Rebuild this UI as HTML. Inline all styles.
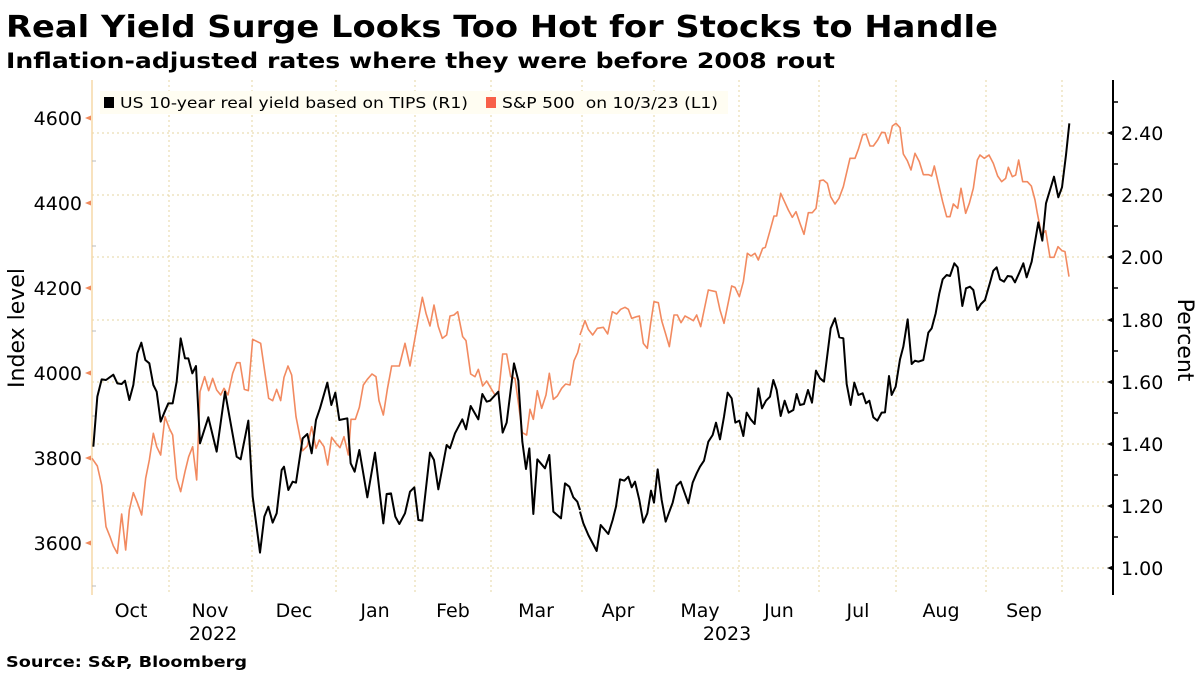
<!DOCTYPE html>
<html><head><meta charset="utf-8"><style>
body{margin:0;background:#fff;}
svg{display:block;font-family:"DejaVu Sans","Liberation Sans",sans-serif;}
</style></head><body>
<svg width="1200" height="674" viewBox="0 0 1200 674" xmlns="http://www.w3.org/2000/svg">
<rect width="1200" height="674" fill="#fff"/>
<text x="6" y="37" font-size="30" font-weight="bold" fill="#000" textLength="992" lengthAdjust="spacingAndGlyphs">Real Yield Surge Looks Too Hot for Stocks to Handle</text>
<text x="6" y="68" font-size="21" font-weight="bold" fill="#000" textLength="829" lengthAdjust="spacingAndGlyphs">Inflation-adjusted rates where they were before 2008 rout</text>
<text x="6" y="667" font-size="15" font-weight="bold" fill="#000" textLength="241" lengthAdjust="spacingAndGlyphs">Source: S&amp;P, Bloomberg</text>
<g stroke="#e6d5a0" stroke-width="1" stroke-dasharray="2,3">
<line x1="92" x2="1113" y1="133" y2="133"/><line x1="92" x2="1113" y1="195" y2="195"/>
<line x1="92" x2="1113" y1="257" y2="257"/><line x1="92" x2="1113" y1="320" y2="320"/>
<line x1="92" x2="1113" y1="382" y2="382"/><line x1="92" x2="1113" y1="444" y2="444"/>
<line x1="92" x2="1113" y1="506" y2="506"/><line x1="92" x2="1113" y1="568" y2="568"/>
<line x1="169" x2="169" y1="80" y2="594"/><line x1="252" x2="252" y1="80" y2="594"/>
<line x1="336" x2="336" y1="80" y2="594"/><line x1="415" x2="415" y1="80" y2="594"/>
<line x1="491" x2="491" y1="80" y2="594"/><line x1="582" x2="582" y1="80" y2="594"/>
<line x1="654" x2="654" y1="80" y2="594"/><line x1="739" x2="739" y1="80" y2="594"/>
<line x1="819" x2="819" y1="80" y2="594"/><line x1="896" x2="896" y1="80" y2="594"/>
<line x1="986" x2="986" y1="80" y2="594"/><line x1="1062" x2="1062" y1="80" y2="594"/>
</g>
<line x1="92" x2="92" y1="80" y2="595" stroke="#f5d9a8" stroke-width="1.5"/>
<g stroke="#bbb" stroke-width="1"><line x1="92" x2="96" y1="161" y2="161"/><line x1="92" x2="96" y1="246" y2="246"/><line x1="92" x2="96" y1="331" y2="331"/><line x1="92" x2="96" y1="416" y2="416"/><line x1="92" x2="96" y1="501" y2="501"/><line x1="92" x2="96" y1="586" y2="586"/></g>
<g fill="#f08a5d"><path d="M85 118l6-2.5v5z"/><path d="M85 203l6-2.5v5z"/><path d="M85 288l6-2.5v5z"/><path d="M85 373l6-2.5v5z"/><path d="M85 458l6-2.5v5z"/><path d="M85 543l6-2.5v5z"/></g>
<g font-size="19" fill="#000" text-anchor="end">
<text x="82" y="125">4600</text><text x="82" y="210">4400</text><text x="82" y="295">4200</text><text x="82" y="380">4000</text><text x="82" y="465">3800</text><text x="82" y="550">3600</text>
</g>
<text transform="translate(24,328) rotate(-90)" font-size="22" text-anchor="middle">Index level</text>
<line x1="1113" x2="1113" y1="80" y2="595" stroke="#000" stroke-width="2"/>
<g stroke="#000" stroke-width="1.5">
<line x1="1113" x2="1118" y1="102" y2="102"/><line x1="1113" x2="1118" y1="164" y2="164"/><line x1="1113" x2="1118" y1="226" y2="226"/><line x1="1113" x2="1118" y1="288" y2="288"/><line x1="1113" x2="1118" y1="351" y2="351"/><line x1="1113" x2="1118" y1="413" y2="413"/><line x1="1113" x2="1118" y1="475" y2="475"/><line x1="1113" x2="1118" y1="537" y2="537"/>
</g>
<g fill="#000"><path d="M1107 133l6-2.5v5z"/><path d="M1107 195l6-2.5v5z"/><path d="M1107 257l6-2.5v5z"/><path d="M1107 320l6-2.5v5z"/><path d="M1107 382l6-2.5v5z"/><path d="M1107 444l6-2.5v5z"/><path d="M1107 506l6-2.5v5z"/><path d="M1107 568l6-2.5v5z"/></g>
<g font-size="19" fill="#000">
<text x="1121" y="140">2.40</text><text x="1121" y="202">2.20</text><text x="1121" y="264">2.00</text><text x="1121" y="327">1.80</text><text x="1121" y="389">1.60</text><text x="1121" y="451">1.40</text><text x="1121" y="513">1.20</text><text x="1121" y="575">1.00</text>
</g>
<text transform="translate(1178,340) rotate(90)" font-size="22" text-anchor="middle">Percent</text>
<g font-size="19" fill="#000" text-anchor="middle">
<text x="131" y="617">Oct</text><text x="210" y="617">Nov</text><text x="294" y="617">Dec</text><text x="375" y="617">Jan</text><text x="453" y="617">Feb</text><text x="536" y="617">Mar</text><text x="618" y="617">Apr</text><text x="700" y="617">May</text><text x="779" y="617">Jun</text><text x="858" y="617">Jul</text><text x="941" y="617">Aug</text><text x="1024" y="617">Sep</text>
<text x="213" y="640">2022</text><text x="727" y="640">2023</text>
</g>
<rect x="100" y="91" width="628" height="23" fill="#fffdf2"/>
<rect x="104" y="97" width="10" height="11" fill="#000"/>
<text x="120" y="108" font-size="15" textLength="348" lengthAdjust="spacingAndGlyphs">US 10-year real yield based on TIPS (R1)</text>
<rect x="486" y="97" width="10" height="11" fill="#f8604a"/>
<text x="502" y="108" font-size="15" xml:space="preserve" textLength="216" lengthAdjust="spacingAndGlyphs">S&amp;P 500  on 10/3/23 (L1)</text>
<g fill="none" stroke-linejoin="round">
<g transform="translate(80,80) scale(0.33333)">
<polyline vector-effect="non-scaling-stroke" stroke="#f28a60" stroke-width="1.6" points="36,1135 52,1158 65,1215 78,1340 90,1370 100,1398 112,1420 125,1302 137,1410 148,1290 160,1238 172,1268 185,1305 197,1195 208,1140 220,1060 230,1100 242,1125 255,1010 268,1045 278,1065 290,1195 302,1235 315,1175 326,1130 338,1100 350,1200 360,935 374,890 386,932 398,895 410,930 422,945 432,925 444,945 458,880 470,848 480,848 493,928 505,932 518,778 542,790 555,880 566,955 578,962 590,928 602,962 612,892 624,858 635,885 648,1010 668,1112 682,1098 695,1040 708,1105 718,1080 732,1100 743,1155 755,1072 768,1090 780,1103 792,1070 805,1125 813,1018 826,1018 838,982 850,915 862,898 876,882 888,890 897,962 910,1005 922,928 935,858 958,858 975,790 990,858 1003,785 1015,718 1027,652 1038,700 1050,738 1062,675 1075,740 1087,775 1100,765 1110,708 1122,705 1133,695 1148,770 1158,782 1172,882 1185,890 1195,868 1208,918 1220,903 1233,925 1245,945 1256,938 1268,822 1280,822 1292,890 1305,895 1315,968 1327,1058 1340,1065 1350,988 1360,1018 1372,932 1385,985 1398,945 1408,880 1420,958 1432,948 1445,925 1457,912 1470,915 1482,842 1493,818 1500,790"/>
<polyline vector-effect="non-scaling-stroke" stroke="#000" stroke-width="2" points="40,1100 52,950 65,898 78,900 100,884 112,910 125,912 135,902 148,960 160,915 172,820 184,788 196,840 208,850 220,915 230,935 242,1025 252,1000 265,970 278,970 290,905 302,775 315,835 325,835 337,880 348,858 360,1090 385,1012 410,1115 435,935 470,1130 482,1138 505,1022 518,1250 540,1418 553,1310 565,1280 578,1328 590,1300 605,1170 612,1160 625,1230 638,1205 648,1208 668,1075 682,1062 695,1120 708,1020 720,985 742,908 754,975 766,938 778,1020 802,1015 812,1150 824,1175 838,1110 862,1252 885,1118 910,1330 920,1242 933,1240 946,1310 958,1332 975,1300 990,1235 1003,1222 1015,1320 1027,1322 1050,1118 1062,1140 1075,1228 1100,1095 1110,1105 1125,1060 1147,1018 1158,1048 1172,978 1195,1018 1207,942 1220,965 1230,962 1255,935 1268,1058 1280,1028 1302,850 1315,902 1327,1085 1338,1167 1348,1105 1360,1302 1372,1138 1395,1165 1408,1125 1420,1295 1443,1315 1455,1210 1468,1220 1480,1252 1492,1265 1500,1290"/>
</g>
<g transform="translate(580,80) scale(0.33333)">
<polyline vector-effect="non-scaling-stroke" stroke="#f28a60" stroke-width="1.6" points="0,765 15,722 25,748 38,765 52,745 70,742 83,762 97,695 110,702 122,688 135,682 145,688 155,715 170,710 178,708 190,790 202,805 212,730 222,665 235,668 245,722 257,762 268,800 282,705 292,705 303,728 315,708 328,715 340,722 350,705 362,740 385,630 408,635 420,690 432,730 455,618 465,622 478,650 490,605 502,520 513,528 525,520 535,540 548,505 556,502 570,452 582,408 590,408 602,340 615,368 625,390 637,412 648,395 660,430 672,463 685,398 697,398 708,385 720,302 730,300 742,310 752,350 765,372 777,355 790,320 810,235 825,235 835,208 848,165 858,162 870,198 880,198 893,180 905,157 915,158 925,190 937,138 948,130 960,143 970,222 982,242 993,270 1005,220 1018,245 1030,284 1045,284 1055,288 1063,258 1075,310 1088,365 1100,410 1110,410 1120,372 1133,385 1143,325 1157,400 1168,370 1180,325 1192,240 1200,225 1213,235 1227,225 1240,250 1253,288 1265,305 1277,295 1285,262 1297,290 1307,285 1316,240 1328,305 1342,305 1354,318 1365,360 1372,400 1385,465 1397,452 1410,532 1422,532 1434,500 1446,512 1455,515 1467,590"/>
<polyline vector-effect="non-scaling-stroke" stroke="#000" stroke-width="2" points="0,1295 10,1330 25,1365 50,1413 62,1335 85,1362 98,1320 108,1280 120,1198 133,1202 145,1190 155,1222 165,1205 178,1260 190,1328 202,1300 213,1232 222,1268 233,1168 245,1260 257,1325 278,1268 290,1217 302,1205 325,1270 338,1208 350,1180 360,1160 372,1142 385,1085 398,1065 408,1028 420,1078 432,1010 443,938 455,955 466,1028 478,1022 490,1068 500,998 512,1018 524,1032 535,925 546,985 558,962 570,950 580,900 590,930 602,1008 614,962 626,998 640,990 650,942 660,975 672,972 684,930 696,968 708,872 720,895 732,905 752,745 765,715 778,772 790,775 800,912 812,975 823,908 835,945 848,940 858,970 868,962 880,1012 892,1022 905,998 915,997 927,888 935,945 947,920 960,838 970,800 983,718 995,852 1005,842 1015,845 1030,840 1045,758 1055,745 1067,700 1078,640 1088,598 1100,585 1110,588 1123,550 1133,562 1147,678 1158,625 1170,620 1180,630 1192,690 1203,672 1215,660 1230,608 1240,572 1250,562 1260,598 1272,605 1283,588 1295,590 1305,607 1318,578 1330,550 1340,592 1355,545 1375,427 1387,482 1398,370 1410,330 1422,290 1435,352 1446,322 1458,225 1468,130"/>
</g>
</g>
</svg>
</body></html>
